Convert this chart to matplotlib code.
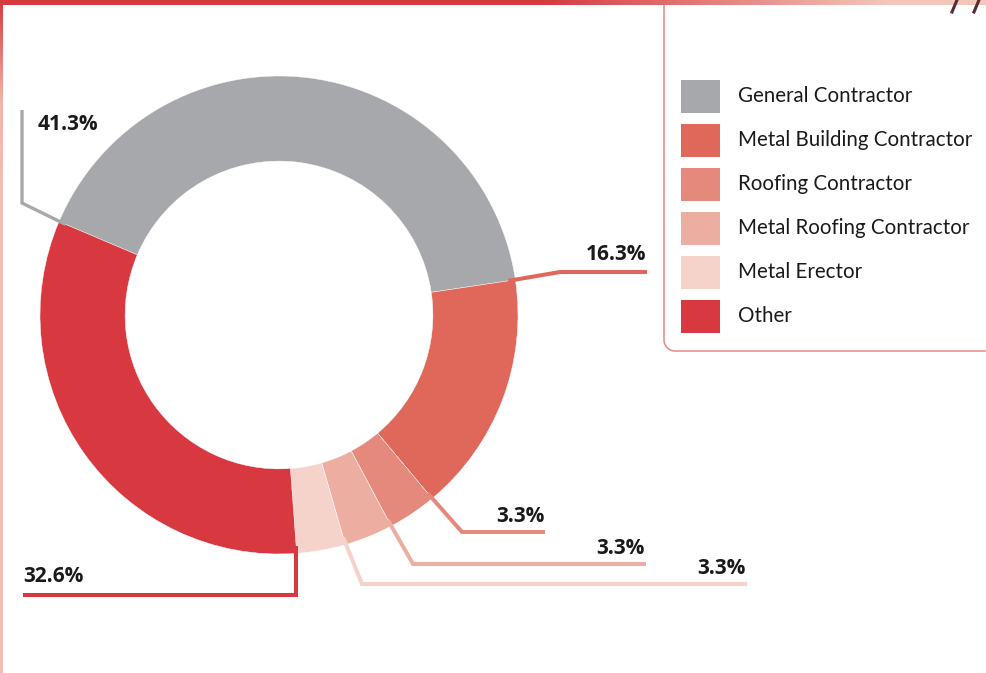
import numpy as np
import matplotlib
matplotlib.use("Agg")
import matplotlib.pyplot as plt
from matplotlib.patches import Rectangle
from matplotlib.colors import LinearSegmentedColormap

# Contractor types and their shares (%)
categories = ["General Contractor", "Metal Building Contractor", "Roofing Contractor",
              "Metal Roofing Contractor", "Metal Erector", "Other"]
shares = [41.3, 16.3, 3.3, 3.3, 3.3, 32.6]
colors = ["#A6A8AB", "#E0685B", "#E5897C", "#EDAEA2", "#F5D3CB", "#D8383F"]
value_labels = ["41.3%", "16.3%", "3.3%", "3.3%", "3.3%", "32.6%"]

W, H = 987, 673
fig = plt.figure(figsize=(W / 100, H / 100), dpi=100)
ax = fig.add_axes([0, 0, 1, 1])


def Y(y):
    """Convert a top-down pixel row into axis coordinates."""
    return H - y


cx, cy = 279, Y(315)
r_out = 239
ring = 0.356

wedges, _ = ax.pie(shares, colors=colors, startangle=157, counterclock=False,
                   center=(cx, cy), radius=r_out, frame=True,
                   wedgeprops=dict(width=r_out * ring, edgecolor="white", linewidth=0.3))
ax.set_xlim(0, W)
ax.set_ylim(0, H)
ax.set_aspect("equal")
ax.axis("off")

# leader lines: start at each wedge's leading edge, then elbow and run to the label
elbows = [(22, 203), (560, 272), (462, 532), (413, 564), (362, 584), (303, 595)]
ends = [(22, 110), (647, 272), (545, 532), (646, 564), (747, 584), (23, 595)]
label_pos = [(38, 125, "left"), (646, 254, "right"), (545, 516, "right"),
             (645, 548, "right"), (746, 568, "right"), (23, 577, "left")]

for i, w in enumerate(wedges):
    ang = np.deg2rad(w.theta2)
    r0 = r_out * 0.97
    sx, sy = cx + r0 * np.cos(ang), cy + r0 * np.sin(ang)
    ex, ey = elbows[i]
    if i == len(wedges) - 1:
        ex = sx
    fx, fy = ends[i]
    lw = 2.4 if i == 0 else 2.9
    ax.plot([sx, ex, fx], [sy, Y(ey), Y(fy)], color=colors[i], lw=lw,
            solid_joinstyle="miter", solid_capstyle="butt", zorder=1)
    lx, ly, ha = label_pos[i]
    ax.text(lx, Y(ly), value_labels[i], ha=ha, va="center", fontsize=15,
            fontweight="bold", family="Open Sans", color="#1a1a1a", zorder=3)

# legend
for i, (cat, col) in enumerate(zip(categories, colors)):
    top = 80 + i * 44
    ax.add_patch(Rectangle((681, Y(top + 33)), 39, 33, facecolor=col, edgecolor="none"))
    ax.text(738, Y(top + 16.5), cat, ha="left", va="center", fontsize=14.8,
            family="Lato", color="#1a1a1a")

# legend frame: left and bottom edges with rounded corner
rad = 11
xl, yb = 664, 351
theta = np.linspace(np.pi, 1.5 * np.pi, 20)
arc_x = xl + rad + rad * np.cos(theta)
arc_y = Y(yb - rad) + rad * np.sin(theta)
fx_ = np.concatenate([[xl], arc_x, [W]])
fy_ = np.concatenate([[Y(5)], arc_y, [Y(yb)]])
ax.plot(fx_, fy_, color="#E38A82", lw=1.1, zorder=2)

# frame accents: top bar and left edge fading from red to pink
cmap = LinearSegmentedColormap.from_list("edge", ["#D63A40", "#F3C6BA"])
grad = np.linspace(0, 1, 256)[None, :]
ax.imshow(np.clip((grad - 0.55) / 0.35, 0, 1), cmap=cmap, extent=(0, W, Y(5), Y(0)),
          aspect="auto", zorder=4, vmin=0, vmax=1)
vgrad = np.linspace(0, 1, 256)[:, None]
cmap_v = LinearSegmentedColormap.from_list("edgev", ["#D63A40", "#F3B4AA", "#F5BEB4"])
ax.imshow(np.clip(vgrad / 0.3, 0, 1), cmap=cmap_v, extent=(0, 3, Y(H), Y(0)),
          aspect="auto", zorder=4, vmin=0, vmax=1, origin="upper")
ax.plot([952, 957], [Y(12), Y(0)], color="#5B2A32", lw=2.2, zorder=5)
ax.plot([974, 979], [Y(12), Y(0)], color="#5B2A32", lw=2.2, zorder=5)

ax.set_xlim(0, W)
ax.set_ylim(0, H)
fig.savefig("out.png", dpi=100)
